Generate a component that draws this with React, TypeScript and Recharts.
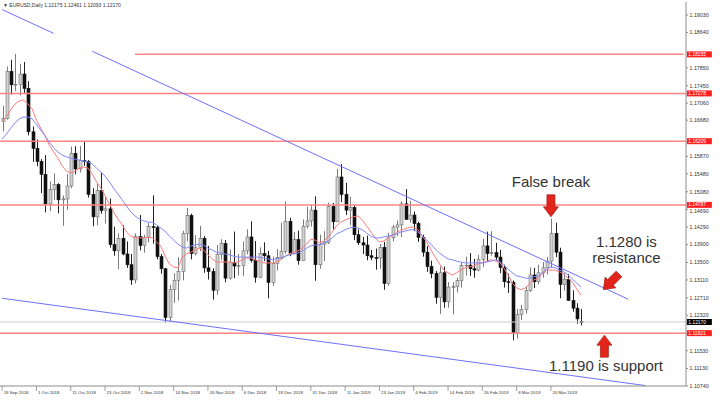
import React from 'react'
import { ComposedChart, Bar, Line, XAxis, YAxis, ReferenceLine, ReferenceDot } from 'recharts'

// EURUSD daily, 19 Sep 2018 .. 29 Mar 2019
const dateLabels = [
    '19 Sep 2018', '1 Oct 2018', '11 Oct 2018', '23 Oct 2018', '2 Nov 2018', '14 Nov 2018',
    '26 Nov 2018', '6 Dec 2018', '18 Dec 2018', '31 Dec 2018', '11 Jan 2019', '23 Jan 2019',
    '4 Feb 2019', '14 Feb 2019', '26 Feb 2019', '8 Mar 2019', '20 Mar 2019',
]
const labelEvery = 8

const opens = [
    1.1665, 1.1672, 1.1777, 1.1747, 1.1748, 1.1771, 1.1739, 1.1642,
    1.1605, 1.1576, 1.1547, 1.1481, 1.1513, 1.1524, 1.1490, 1.1492, 1.1521, 1.1594, 1.1559, 1.1578, 1.1576, 1.1502,
    1.1452, 1.1511, 1.1466, 1.1470, 1.1390, 1.1376, 1.1404, 1.1369, 1.1345,
    1.1311, 1.1408, 1.1388, 1.1406, 1.1430, 1.1428, 1.1363, 1.1336, 1.1227, 1.1290, 1.1310, 1.1330, 1.1415, 1.1455,
    1.1370, 1.1384, 1.1404, 1.1338, 1.1330, 1.1288, 1.1368, 1.1392,
    1.1315, 1.1350, 1.1342, 1.1343, 1.1376, 1.1407, 1.1355, 1.1317, 1.1370, 1.1365, 1.1305, 1.1348, 1.1361, 1.1375,
    1.1442, 1.1370, 1.1401, 1.1354, 1.1431, 1.1443,
    1.1467, 1.1345, 1.1391, 1.1395, 1.1475, 1.1441, 1.1541, 1.1502, 1.1467, 1.1473, 1.1412, 1.1394, 1.1389, 1.1365,
    1.1361, 1.1360, 1.1384, 1.1303, 1.1405, 1.1429, 1.1434, 1.1481,
    1.1446, 1.1456, 1.1437, 1.1406, 1.1373, 1.1341, 1.1325, 1.1272, 1.1327, 1.1262, 1.1296, 1.1296, 1.1310, 1.1343,
    1.1344, 1.1336, 1.1333, 1.1357, 1.1387, 1.1370,
    1.1372, 1.1362, 1.1339, 1.1307, 1.1306, 1.1194, 1.1234, 1.1245, 1.1287, 1.1322, 1.1307, 1.1327, 1.1338, 1.1353,
    1.1415, 1.1373, 1.1301, 1.1312, 1.1265, 1.1248, 1.12175,
]
const highs = [
    1.1700, 1.1788, 1.1803, 1.1816, 1.1794, 1.1798, 1.1755, 1.1654,
    1.1625, 1.1581, 1.1590, 1.1531, 1.1549, 1.1527, 1.1500, 1.1548, 1.1609, 1.1610, 1.1610, 1.1621, 1.1579, 1.1516,
    1.1527, 1.1551, 1.1496, 1.1493, 1.1430, 1.1415, 1.1433, 1.1397, 1.1369,
    1.1415, 1.1456, 1.1412, 1.1438, 1.1500, 1.1432, 1.1369, 1.1338, 1.1300, 1.1326, 1.1362, 1.1421, 1.1472, 1.1459,
    1.1411, 1.1432, 1.1409, 1.1387, 1.1337, 1.1389, 1.1402, 1.1400,
    1.1379, 1.1419, 1.1369, 1.1397, 1.1424, 1.1442, 1.1398, 1.1384, 1.1395, 1.1376, 1.1363, 1.1380, 1.1439, 1.1486,
    1.1450, 1.1418, 1.1421, 1.1446, 1.1474, 1.1479,
    1.1498, 1.1412, 1.1420, 1.1484, 1.1483, 1.1559, 1.1570, 1.1528, 1.1497, 1.1478, 1.1424, 1.1407, 1.1410, 1.1378,
    1.1381, 1.1391, 1.1396, 1.1416, 1.1434, 1.1444, 1.1487, 1.1514,
    1.1488, 1.1464, 1.1441, 1.1412, 1.1387, 1.1354, 1.1331, 1.1341, 1.1341, 1.1306, 1.1306, 1.1316, 1.1350, 1.1363,
    1.1371, 1.1358, 1.1367, 1.1403, 1.1419, 1.1420,
    1.1394, 1.1378, 1.1345, 1.1325, 1.1310, 1.1246, 1.1255, 1.1296, 1.1339, 1.1338, 1.1345, 1.1351, 1.1362, 1.1448,
    1.1439, 1.1383, 1.1326, 1.1324, 1.1288, 1.1259, 1.12461,
]
const lows = [
    1.1643, 1.1669, 1.1725, 1.1733, 1.1723, 1.1727, 1.1634, 1.1575,
    1.1565, 1.1505, 1.1462, 1.1465, 1.1490, 1.1460, 1.1432, 1.1468, 1.1516, 1.1547, 1.1551, 1.1566, 1.1495, 1.1431,
    1.1433, 1.1459, 1.1437, 1.1383, 1.1365, 1.1335, 1.1366, 1.1338, 1.1300,
    1.1303, 1.1377, 1.1372, 1.1395, 1.1392, 1.1357, 1.1325, 1.1216, 1.1217, 1.1260, 1.1265, 1.1310, 1.1397, 1.1357,
    1.1366, 1.1375, 1.1327, 1.1312, 1.1267, 1.1278, 1.1356, 1.1306,
    1.1312, 1.1315, 1.1321, 1.1320, 1.1368, 1.1350, 1.1305, 1.1315, 1.1353, 1.1270, 1.1298, 1.1332, 1.1356, 1.1370,
    1.1364, 1.1369, 1.1345, 1.1353, 1.1426, 1.1430,
    1.1309, 1.1336, 1.1353, 1.1391, 1.1424, 1.1440, 1.1485, 1.1456, 1.1433, 1.1400, 1.1389, 1.1369, 1.1355, 1.1355,
    1.1334, 1.1336, 1.1289, 1.1298, 1.1397, 1.1409, 1.1407, 1.1449,
    1.1439, 1.1420, 1.1396, 1.1363, 1.1329, 1.1315, 1.1258, 1.1235, 1.1249, 1.1249, 1.1234, 1.1283, 1.1294, 1.1321,
    1.1320, 1.1316, 1.1330, 1.1340, 1.1352, 1.1365,
    1.1355, 1.1326, 1.1294, 1.1282, 1.1176, 1.1180, 1.1221, 1.1236, 1.1284, 1.1293, 1.1301, 1.1316, 1.1323, 1.1338,
    1.1362, 1.1270, 1.1287, 1.1264, 1.1240, 1.1213, 1.12093,
]
const closes = [
    1.1672, 1.1777, 1.1747, 1.1748, 1.1771, 1.1739, 1.1642, 1.1605,
    1.1576, 1.1547, 1.1481, 1.1513, 1.1524, 1.1490, 1.1492, 1.1521, 1.1594, 1.1559, 1.1578, 1.1576, 1.1502, 1.1452,
    1.1511, 1.1466, 1.1470, 1.1390, 1.1376, 1.1404, 1.1369, 1.1345, 1.1311,
    1.1408, 1.1388, 1.1406, 1.1430, 1.1428, 1.1363, 1.1336, 1.1227, 1.1290, 1.1310, 1.1330, 1.1415, 1.1455, 1.1370,
    1.1384, 1.1404, 1.1338, 1.1330, 1.1288, 1.1368, 1.1392, 1.1315,
    1.1350, 1.1342, 1.1343, 1.1376, 1.1407, 1.1355, 1.1317, 1.1370, 1.1365, 1.1305, 1.1348, 1.1361, 1.1375, 1.1442,
    1.1370, 1.1401, 1.1354, 1.1431, 1.1443, 1.1467,
    1.1345, 1.1391, 1.1395, 1.1475, 1.1441, 1.1541, 1.1502, 1.1467, 1.1473, 1.1412, 1.1394, 1.1389, 1.1365, 1.1361,
    1.1360, 1.1384, 1.1303, 1.1405, 1.1429, 1.1434, 1.1481, 1.1446,
    1.1456, 1.1437, 1.1406, 1.1373, 1.1341, 1.1325, 1.1272, 1.1327, 1.1262, 1.1295, 1.1296, 1.1310, 1.1343, 1.1344,
    1.1336, 1.1333, 1.1357, 1.1387, 1.1370, 1.1372,
    1.1362, 1.1339, 1.1307, 1.1306, 1.1194, 1.1234, 1.1245, 1.1287, 1.1322, 1.1307, 1.1327, 1.1338, 1.1353, 1.1415,
    1.1373, 1.1301, 1.1312, 1.1265, 1.1248, 1.1224, 1.12170,
]

// moving averages (red = fast, blue = slow)
const fastMa = [
    1.1666, 1.1675, 1.1691, 1.1704, 1.1711, 1.1713, 1.1704, 1.1693, 1.1668, 1.1650,
    1.1633, 1.1612, 1.1597, 1.1583, 1.1566, 1.1554, 1.1550, 1.1554, 1.1561, 1.1563,
    1.1561, 1.1548, 1.1530, 1.1516, 1.1499, 1.1481, 1.1463, 1.1447, 1.1434, 1.1418,
    1.1409, 1.1405, 1.1405, 1.1405, 1.1407, 1.1405, 1.1396, 1.1387, 1.1364, 1.1347,
    1.1340, 1.1338, 1.1362, 1.1369, 1.1373, 1.1378, 1.1382, 1.1378, 1.1367, 1.1358,
    1.1351, 1.1351, 1.1351, 1.1351, 1.1349, 1.1351, 1.1356, 1.1360, 1.1360, 1.1356,
    1.1353, 1.1349, 1.1349, 1.1349, 1.1351, 1.1356, 1.1364, 1.1369, 1.1373, 1.1376,
    1.1382, 1.1391, 1.1402, 1.1400, 1.1394, 1.1398, 1.1407, 1.1418, 1.1432, 1.1440,
    1.1445, 1.1449, 1.1452, 1.1454, 1.1445, 1.1432, 1.1418, 1.1405, 1.1396, 1.1398,
    1.1405, 1.1411, 1.1416, 1.1423, 1.1425, 1.1429, 1.1429, 1.1423, 1.1409, 1.1396,
    1.1378, 1.1362, 1.1347, 1.1333, 1.1327, 1.1322, 1.1327, 1.1333, 1.1338, 1.1340,
    1.1342, 1.1347, 1.1349, 1.1353, 1.1356, 1.1353, 1.1351, 1.1338, 1.1322, 1.1304,
    1.1293, 1.1289, 1.1293, 1.1302, 1.1311, 1.1315, 1.1324, 1.1333, 1.1333, 1.1333,
    1.1329, 1.1324, 1.1315, 1.1306, 1.1291, 1.1277,
]
const slowMa = [
    1.1626, 1.1637, 1.1650, 1.1662, 1.1671, 1.1675, 1.1675, 1.1671, 1.1659, 1.1646,
    1.1633, 1.1619, 1.1606, 1.1597, 1.1590, 1.1586, 1.1583, 1.1581, 1.1579, 1.1577,
    1.1575, 1.1570, 1.1561, 1.1552, 1.1543, 1.1530, 1.1516, 1.1503, 1.1490, 1.1476,
    1.1463, 1.1454, 1.1447, 1.1443, 1.1440, 1.1440, 1.1434, 1.1427, 1.1420, 1.1409,
    1.1400, 1.1391, 1.1385, 1.1382, 1.1387, 1.1389, 1.1391, 1.1389, 1.1382, 1.1378,
    1.1373, 1.1371, 1.1369, 1.1367, 1.1364, 1.1362, 1.1362, 1.1362, 1.1362, 1.1362,
    1.1362, 1.1360, 1.1358, 1.1356, 1.1358, 1.1360, 1.1364, 1.1367, 1.1369, 1.1371,
    1.1376, 1.1382, 1.1387, 1.1389, 1.1389, 1.1394, 1.1398, 1.1405, 1.1414, 1.1418,
    1.1423, 1.1427, 1.1429, 1.1427, 1.1423, 1.1416, 1.1409, 1.1405, 1.1405, 1.1407,
    1.1409, 1.1411, 1.1414, 1.1418, 1.1420, 1.1423, 1.1423, 1.1418, 1.1409, 1.1400,
    1.1391, 1.1380, 1.1371, 1.1364, 1.1358, 1.1356, 1.1353, 1.1351, 1.1349, 1.1349,
    1.1349, 1.1349, 1.1349, 1.1351, 1.1353, 1.1356, 1.1353, 1.1344, 1.1335, 1.1327,
    1.1320, 1.1318, 1.1315, 1.1315, 1.1318, 1.1320, 1.1327, 1.1335, 1.1340, 1.1338,
    1.1333, 1.1329, 1.1322, 1.1313, 1.1304, 1.1295,
]

const priceTicks = [
    1.1903, 1.1864, 1.1785, 1.1745, 1.1706, 1.1668, 1.1587, 1.1548, 1.1508, 1.1469,
    1.1429, 1.139, 1.135, 1.1311, 1.1271, 1.1232, 1.1153, 1.1113, 1.1074,
]
const levels = [1.1815, 1.17278, 1.1621, 1.14787, 1.11921]
const levelText = ['1.18155', '1.17278', '1.16209', '1.14787', '1.11921']
const lastPrice = 1.1217

// hand-drawn trend lines: [startIndex, startPrice, endIndex, endPrice]
const trendLines = [
    [0, 1.1915, 12, 1.1862],
    [21, 1.1822, 146, 1.1268],
    [0, 1.127, 150, 1.1075],
]

const SLOTS = 160
const ticksIdx = dateLabels.map((_, k) => k * labelEvery)

const rows = Array.from({ length: SLOTS }, (_, i) =>
    i < opens.length
        ? { i, o: opens[i], h: highs[i], l: lows[i], c: closes[i], hl: [lows[i], highs[i]], fast: fastMa[i], slow: slowMa[i] }
        : { i }
)

const FONT = '"Liberation Sans", Arial, sans-serif'
const ARROW_RED = '#e3241b'
const LINE_RED = '#ff8585'
const TREND_BLUE = '#6f6fff'

const Candle = (props: any) => {
    const { x, y, width, height, payload } = props
    if (!payload || payload.o == null || !height) return null
    const cx = Math.round(x + width / 2) + 0.5
    const k = height / (payload.h - payload.l)
    const py = (v: number) => y + (payload.h - v) * k
    const up = payload.c >= payload.o
    const top = py(Math.max(payload.o, payload.c))
    const bot = py(Math.min(payload.o, payload.c))
    return (
        <g>
            <line x1={cx} x2={cx} y1={y} y2={y + height} stroke={up ? '#7a7a7a' : '#222'} strokeWidth={1} />
            <rect x={cx - 1.5} y={top} width={3} height={Math.max(bot - top, 0.8)}
                fill={up ? '#d2d2d2' : '#111'} stroke={up ? '#6e6e6e' : '#111'} strokeWidth={0.6} />
        </g>
    )
}

const DateTick = (props: any) => {
    const { x, y, payload } = props
    const label = dateLabels[Math.round(payload.value / labelEvery)]
    return (
        <g>
            <line x1={x} x2={x} y1={y} y2={y + 5} stroke="#777" strokeWidth={0.7} />
            <text x={x + 1.5} y={y + 7.8} fontSize={4.4} fill="#333" fontFamily={FONT}>{label}</text>
        </g>
    )
}

// price labels sitting right next to a level tag are pushed just clear of it
const PriceTick = (props: any) => {
    const { x, y, payload } = props
    const near = [...levels, lastPrice].find((v) => Math.abs(v - payload.value) < 0.0015)
    const dy = near == null ? 0 : payload.value < near ? 2 : -2
    return (
        <text x={x} y={y + dy} dy="0.355em" fontSize={5.3} fill="#333" fontFamily={FONT}>
            {payload.value.toFixed(5)}
        </text>
    )
}

const makeTag = (text: string, bg: string) => (props: any) => {
    const { cx, cy } = props
    return (
        <g>
            <rect x={cx + 3} y={cy - 3} width={25} height={6} fill={bg} />
            <text x={cx + 4.5} y={cy + 1.6} fontSize={4.9} fill="#fff" fontFamily={FONT}>{text}</text>
        </g>
    )
}

// arrow pointing down with its tip at (0, 0)
const arrowPts = '-4,-22 4,-22 4,-10 7.5,-10 0,0 -7.5,-10 -4,-10'

const FalseBreak = ({ cx, cy }: any) => (
    <g>
        <text x={cx} y={cy - 30} textAnchor="middle" fontSize={15} fill="#333" fontFamily={FONT}>False break</text>
        <polygon points={arrowPts} transform={`translate(${cx},${cy})`} fill={ARROW_RED} stroke="#a81812" strokeWidth={0.7} />
    </g>
)

const Resistance = ({ cx, cy }: any) => (
    <g>
        <text x={cx + 24} y={cy - 40.5} textAnchor="middle" fontSize={15} fill="#333" fontFamily={FONT}>1.1280 is</text>
        <text x={cx + 24} y={cy - 24.5} textAnchor="middle" fontSize={15} fill="#333" fontFamily={FONT}>resistance</text>
        <polygon points={arrowPts} transform={`translate(${cx + 1},${cy + 2}) rotate(45)`} fill={ARROW_RED} stroke="#a81812" strokeWidth={0.7} />
    </g>
)

const Support = ({ cx, cy }: any) => (
    <g>
        <polygon points={arrowPts} transform={`translate(${cx + 2},${cy + 2}) rotate(180)`} fill={ARROW_RED} stroke="#a81812" strokeWidth={0.7} />
        <text x={cx + 3.6} y={cy + 38} textAnchor="middle" fontSize={15} fill="#333" fontFamily={FONT}>1.1190 is support</text>
    </g>
)

export default function App() {
    return (
        <div style={{ position: 'absolute', left: 0, top: 0, width: 720, height: 412, background: '#fff' }}>
            <ComposedChart width={720} height={412} data={rows} margin={{ top: 2, right: 0, bottom: 0, left: 0 }}>
                <XAxis dataKey="i" type="category" ticks={ticksIdx} interval={0} height={26}
                    tickSize={0} tickMargin={0} tickLine={false} tick={<DateTick />}
                    axisLine={{ stroke: '#8c8c8c' }} />
                <YAxis orientation="right" width={34} domain={[1.1074, 1.1932]} allowDataOverflow
                    ticks={priceTicks} interval={0} tickSize={2} tickMargin={1.5}
                    tick={<PriceTick />}
                    tickLine={{ stroke: '#8c8c8c' }} axisLine={{ stroke: '#8c8c8c' }} />

                <ReferenceLine y={lastPrice} stroke="#cfcfcf" strokeWidth={1} />
                <ReferenceLine segment={[{ x: 31, y: levels[0] }, { x: SLOTS - 1, y: levels[0] }]} stroke={LINE_RED} strokeWidth={1.5} />
                {levels.slice(1).map((v) => (
                    <ReferenceLine key={v} y={v} stroke={LINE_RED} strokeWidth={1.5} />
                ))}

                <Bar dataKey="hl" barSize={3} shape={<Candle />} isAnimationActive={false} />
                <Line dataKey="fast" stroke="#ff7a7a" strokeWidth={1} dot={false} isAnimationActive={false} />
                <Line dataKey="slow" stroke="#7f86ff" strokeWidth={1} dot={false} isAnimationActive={false} />

                {trendLines.map(([x1, y1, x2, y2], k) => (
                    <ReferenceLine key={k} segment={[{ x: x1, y: y1 }, { x: x2, y: y2 }]} stroke={TREND_BLUE} strokeWidth={1} />
                ))}

                {levels.map((v, k) => (
                    <ReferenceDot key={'t' + k} x={SLOTS - 1} y={v} shape={makeTag(levelText[k], '#ff2020')} />
                ))}
                <ReferenceDot x={SLOTS - 1} y={lastPrice} shape={makeTag('1.12170', '#000')} />

                <ReferenceDot x={128} y={1.1452} shape={<FalseBreak />} />
                <ReferenceDot x={140} y={1.1294} shape={<Resistance />} />
                <ReferenceDot x={140} y={levels[4]} shape={<Support />} />
            </ComposedChart>
            <svg width={200} height={12} style={{ position: 'absolute', left: 0, top: 0 }}>
                <text x={3} y={7} fontSize={5} fill="#333" fontFamily={FONT}>▼ EURUSD,Daily  1.12175 1.12461 1.12093 1.12170</text>
            </svg>
        </div>
    )
}
